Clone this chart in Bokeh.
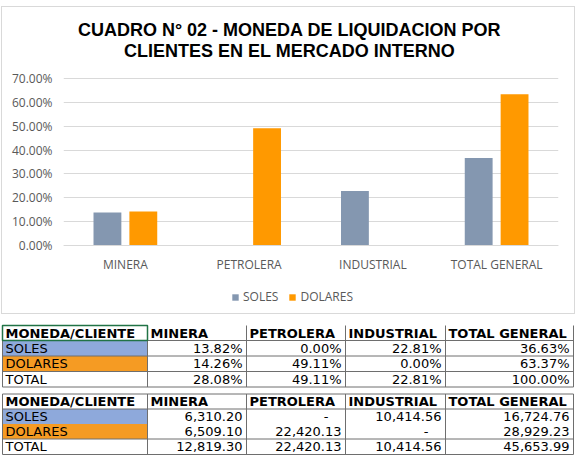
from bokeh.plotting import figure
from bokeh.models import (ColumnDataSource, FactorRange, Range1d, NumeralTickFormatter,
                          FixedTicker, Legend, LegendItem, Label, InlineStyleSheet)
from bokeh.transform import dodge
from bokeh.embed import file_html
from bokeh.resources import INLINE
from bokeh.core.properties import value

# ---- data ----
clientes = ["MINERA", "PETROLERA", "INDUSTRIAL", "TOTAL GENERAL"]
soles_pct = [0.1382, 0.0000, 0.2281, 0.3663]
dolares_pct = [0.1426, 0.4911, 0.0000, 0.6337]
total_pct = [0.2808, 0.4911, 0.2281, 1.0000]
soles_monto = [6310.20, 0.0, 10414.56, 16724.76]
dolares_monto = [6509.10, 22420.13, 0.0, 28929.23]
total_monto = [12819.30, 22420.13, 10414.56, 45653.99]
y_ticks = [0.0, 0.1, 0.2, 0.3, 0.4, 0.5, 0.6, 0.7]
titulo = ["CUADRO N° 02 - MONEDA DE LIQUIDACION POR", "CLIENTES EN EL MERCADO INTERNO"]

COLOR_SOLES = "#8497B0"
COLOR_DOLARES = "#FF9900"
LABEL_GREY = "#595959"
GRID_GREY = "#D9D9D9"

# ---- chart geometry (pixels) ----
CHART_W, CHART_H = 578, 318
PLOT_TOP, PLOT_BOTTOM = 78, 245          # where 70% and 0% sit
Y_MAX = 0.7
units_per_px = Y_MAX / (PLOT_BOTTOM - PLOT_TOP)
# the frame spans the full height so title and legend can live inside it
y_top = Y_MAX + PLOT_TOP * units_per_px
y_bottom = -(CHART_H - PLOT_BOTTOM) * units_per_px

src = ColumnDataSource(dict(cliente=clientes, soles=soles_pct, dolares=dolares_pct))

p = figure(x_range=FactorRange(factors=clientes, range_padding=0),
           y_range=Range1d(y_bottom, y_top),
           width=CHART_W, height=CHART_H, output_backend="svg", toolbar_location=None,
           min_border_left=63, min_border_right=20,
           min_border_top=0, min_border_bottom=0)

r_soles = p.vbar(x=dodge("cliente", -0.145, range=p.x_range), top="soles", width=0.225,
                 source=src, fill_color=COLOR_SOLES, line_color=None)
r_dolares = p.vbar(x=dodge("cliente", 0.145, range=p.x_range), top="dolares", width=0.225,
                   source=src, fill_color=COLOR_DOLARES, line_color=None)

p.yaxis.ticker = FixedTicker(ticks=y_ticks)
p.yaxis.formatter = NumeralTickFormatter(format="0.00%")
p.yaxis.axis_line_color = None
p.yaxis.major_tick_line_color = None
p.yaxis.minor_tick_line_color = None
p.yaxis.major_tick_out = 0
p.yaxis.major_label_standoff = 11
p.yaxis.major_label_text_font = "Open Sans"
p.yaxis.major_label_text_font_size = "12px"
p.yaxis.major_label_text_color = LABEL_GREY

p.xaxis.fixed_location = 0
p.xaxis.axis_line_color = GRID_GREY
p.xaxis.major_tick_line_color = None
p.xaxis.minor_tick_line_color = None
p.xaxis.major_tick_out = 0
p.xaxis.major_label_standoff = 10
p.xaxis.major_label_text_font = "Open Sans"
p.xaxis.major_label_text_font_size = "12px"
p.xaxis.major_label_text_color = LABEL_GREY

p.xgrid.grid_line_color = None
p.ygrid.grid_line_color = GRID_GREY
p.outline_line_color = None

# two-line title, centred on the chart object
for i, (linea, yc) in enumerate(zip(titulo, [29, 50])):
    p.add_layout(Label(x=289 - 63, y=CHART_H - yc, x_units="screen", y_units="screen",
                       text=linea, text_align="center", text_baseline="middle",
                       text_font="Liberation Sans", text_font_size="18px",
                       text_font_style="bold", text_color="#000000"))

legend = Legend(items=[LegendItem(label="SOLES", renderers=[r_soles]),
                       LegendItem(label="DOLARES", renderers=[r_dolares])],
                orientation="horizontal", location=(168, 13),
                border_line_color=None, background_fill_alpha=0,
                glyph_width=8, glyph_height=8, label_standoff=4, spacing=10,
                padding=2, margin=0,
                label_text_font="Open Sans", label_text_font_size="12px",
                label_text_color=LABEL_GREY)
p.add_layout(legend, "center")

# light frame around the chart object
p.stylesheets = [InlineStyleSheet(css=(
    ":host { position: relative; }"
    ":host::after { content: ''; position: absolute; left: 1px; top: 6px;"
    " width: 572px; height: 306px; border: 1px solid #D9D9D9; pointer-events: none; }"))]

# ---- summary tables ----
def fmt_pct(v):
    return f"{v * 100:.2f}%"

def fmt_monto(v):
    return "-" if v == 0 else f"{v:,.2f}"

t = figure(width=578, height=138, x_range=Range1d(0, 578), y_range=Range1d(138, 0),
           output_backend="svg", toolbar_location=None,
           x_axis_location=None, y_axis_location=None, min_border=0)
t.grid.visible = False
t.outline_line_color = None

col_edges = [2, 147, 246, 345, 445, 573]
TABLE_FONT = "DejaVu Sans"
LINE_GREY = "#6E6E6E"
FILL_SOLES = "#8EA9DB"
FILL_DOLARES = "#F59B23"


def draw_table(row_edges, series, fmt, full_header_border):
    n_rows = len(row_edges) - 1
    # coloured first-column cells
    t.quad(left=[col_edges[0]] * 2, right=[col_edges[1]] * 2,
           top=[row_edges[1], row_edges[2]], bottom=[row_edges[2], row_edges[3]],
           fill_color=[FILL_SOLES, FILL_DOLARES], line_color=None)

    # header texts
    headers = ["MONEDA/CLIENTE"] + clientes
    hy = (row_edges[0] + row_edges[1]) / 2
    t.text(x=[e + 3 for e in col_edges[:-1]], y=[hy] * len(headers), text=headers,
           text_font=value(TABLE_FONT), text_font_style="bold", text_font_size="13px",
           text_color="#000000", text_baseline="middle", text_align="left")

    # row labels and values
    labels = [s[0] for s in series]
    ys = [(row_edges[i + 1] + row_edges[i + 2]) / 2 for i in range(n_rows - 1)]
    t.text(x=[col_edges[0] + 3] * len(labels), y=ys, text=labels,
           text_font=value(TABLE_FONT), text_font_size="13px", text_color="#000000",
           text_baseline="middle", text_align="left")
    xs, yv, txt = [], [], []
    for (lab, vals), y in zip(series, ys):
        for j, v in enumerate(vals):
            s = fmt(v)
            right = col_edges[j + 2]
            xs.append(right - 17 if s == "-" else right - 4)
            yv.append(y)
            txt.append(s)
    t.text(x=xs, y=yv, text=txt, text_font=value(TABLE_FONT), text_font_size="13px",
           text_color="#000000", text_baseline="middle", text_align="right")

    top, bottom = row_edges[0], row_edges[-1]
    # vertical rules
    if full_header_border:
        t.segment(x0=col_edges, y0=[top] * len(col_edges), x1=col_edges,
                  y1=[bottom] * len(col_edges), line_color=LINE_GREY, line_width=1)
    else:
        t.segment(x0=col_edges[1:], y0=[top] * 5, x1=col_edges[1:], y1=[bottom] * 5,
                  line_color=LINE_GREY, line_width=1)
        t.segment(x0=[col_edges[0]], y0=[row_edges[1]], x1=[col_edges[0]], y1=[bottom],
                  line_color=LINE_GREY, line_width=1)
    return top, bottom


# percentages table
t1_rows = [7, 22, 37.5, 53, 68.5]
draw_table(t1_rows, [("SOLES", soles_pct), ("DOLARES", dolares_pct), ("TOTAL", total_pct)],
           fmt_pct, False)
h1 = t1_rows[1:]
t.segment(x0=[col_edges[0]] * len(h1), y0=h1, x1=[col_edges[-1]] * len(h1), y1=h1,
          line_color=LINE_GREY, line_width=1)
# selected header cell
t.quad(left=[col_edges[0]], right=[col_edges[1]], top=[t1_rows[0]], bottom=[t1_rows[1]],
       fill_color=None, line_color="#217346", line_width=1.5)

# amounts table
t2_rows = [75.5, 90.5, 105.5, 120.5, 136]
draw_table(t2_rows, [("SOLES", soles_monto), ("DOLARES", dolares_monto),
                     ("TOTAL", total_monto)], fmt_monto, True)
h2 = [t2_rows[0], t2_rows[1], t2_rows[3], t2_rows[4]]
t.segment(x0=[col_edges[0]] * len(h2), y0=h2, x1=[col_edges[-1]] * len(h2), y1=h2,
          line_color=LINE_GREY, line_width=1)

# chart and tables are independent roots so their frames are laid out separately
open("out.html", "w").write(file_html([p, t], INLINE))
